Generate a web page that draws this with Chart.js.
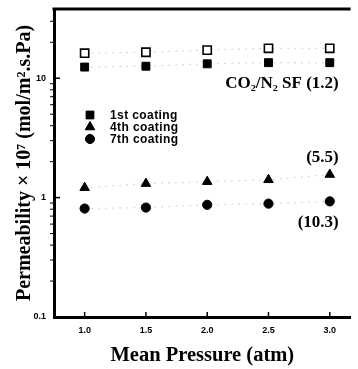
<!DOCTYPE html>
<html><head><meta charset="utf-8">
<script src="https://cdn.jsdelivr.net/npm/chart.js@4"></script>
<style>html,body{margin:0;padding:0;background:#fff;overflow:hidden}#wrap{width:358px;height:369px;position:relative}</style>
</head><body><div id="wrap"><canvas id="c" width="358" height="369"></canvas></div>
<script>
const pressures = [1.0, 1.5, 2.0, 2.5, 3.0];
const co2Open = [16.2, 16.5, 17.2, 17.8, 17.8];
const coating1 = [12.4, 12.6, 13.2, 13.5, 13.5];
const coating4 = [1.21, 1.31, 1.36, 1.41, 1.56];
const coating7 = [0.81, 0.825, 0.87, 0.89, 0.93];
const seriesLabels = ['1st coating', '4th coating', '7th coating'];
const xTickValues = [1.0, 1.5, 2.0, 2.5, 3.0];
const yMajorTicks = [0.1, 1, 10];
const annotations = [
  {text: 'CO\u2082/N\u2082 SF (1.2)', x: 3.0, y: 9.0},
  {text: '(5.5)', x: 3.0, y: 2.17},
  {text: '(10.3)', x: 3.0, y: 0.62}
];

const pts = arr => pressures.map((p, i) => ({x: p, y: arr[i]}));
const dotted = {borderColor: '#a8a8a8', borderWidth: 1, borderDash: [1, 6], showLine: true, pointBackgroundColor: '#000', pointBorderColor: '#000'};

const customDraw = {
  id: 'customDraw',
  afterDraw(chart) {
    const {ctx, chartArea: ca, scales: {x, y}} = chart;
    ctx.save();
    ctx.strokeStyle = '#000'; ctx.lineWidth = 3;
    ctx.beginPath(); ctx.moveTo(ca.left - 1.5, ca.top); ctx.lineTo(ca.right, ca.top); ctx.stroke();
    ctx.lineWidth = 1.5;
    yMajorTicks.forEach(v => { const py = y.getPixelForValue(v); ctx.beginPath(); ctx.moveTo(ca.left, py); ctx.lineTo(ca.left + 6, py); ctx.stroke(); });
    xTickValues.forEach(v => { const px = x.getPixelForValue(v); ctx.beginPath(); ctx.moveTo(px, ca.bottom); ctx.lineTo(px, ca.bottom - 5); ctx.stroke(); });
    ctx.lineWidth = 1;
    [0.1, 1, 10].forEach(d => { for (let k = 2; k <= 9; k++) { const v = d * k; if (v > y.max) break; const py = y.getPixelForValue(v); ctx.beginPath(); ctx.moveTo(ca.left - 4, py); ctx.lineTo(ca.left, py); ctx.stroke(); } });
    const lx = 90, ly = [115, 127, 139];
    ctx.fillStyle = '#000';
    ctx.font = 'bold 12px "Liberation Sans", Arial, sans-serif';
    try { ctx.letterSpacing = '0.4px'; } catch (e) {}
    ctx.textBaseline = 'middle'; ctx.textAlign = 'left';
    const styles = ['rect', 'triangle', 'circle'];
    const radii = [5.5, 5.5, 4.5];
    styles.forEach((s, i) => {
      Chart.helpers.drawPoint(ctx, {pointStyle: s, radius: radii[i], rotation: 0, borderWidth: 1}, lx, ly[i]);
      ctx.fill();
      ctx.fillText(seriesLabels[i], lx + 20, ly[i] + 1);
    });
    try { ctx.letterSpacing = '0px'; } catch (e) {}
    ctx.font = 'bold 17px "Liberation Serif", "Times New Roman", serif';
    ctx.textAlign = 'right'; ctx.textBaseline = 'middle';
    annotations.forEach(a => ctx.fillText(a.text, x.getPixelForValue(a.x) + 9, y.getPixelForValue(a.y)));
    ctx.restore();
  }
};

new Chart(document.getElementById('c'), {
  type: 'scatter',
  data: {
    datasets: [
      {label: 'CO2', data: pts(co2Open), ...dotted, pointStyle: 'rect', pointRadius: 5.8, pointBackgroundColor: '#fff', pointBorderColor: '#000', pointBorderWidth: 1.6},
      {label: seriesLabels[0], data: pts(coating1), ...dotted, pointStyle: 'rect', pointRadius: 5.6},
      {label: seriesLabels[1], data: pts(coating4), ...dotted, pointStyle: 'triangle', pointRadius: 5.5},
      {label: seriesLabels[2], data: pts(coating7), ...dotted, pointStyle: 'circle', pointRadius: 4.6}
    ]
  },
  options: {
    responsive: false, animation: false,
    layout: {padding: {top: 9, right: 0, left: 0, bottom: 0}},
    plugins: {legend: {display: false}, tooltip: {enabled: false}},
    scales: {
      x: {
        type: 'linear', min: 0.75, max: 3.17,
        afterFit: s => { s.height = 52; s.paddingLeft = 0; s.paddingRight = 0; },
        afterBuildTicks: s => { s.ticks = xTickValues.map(v => ({value: v})); },
        grid: {display: false, drawTicks: false},
        border: {display: true, color: '#000', width: 3},
        ticks: {padding: 8, color: '#000', font: {family: '"Liberation Sans", Arial, sans-serif', weight: 'bold', size: 9}, callback: v => v.toFixed(1)},
        title: {display: true, text: 'Mean Pressure (atm)', color: '#000', font: {family: '"Liberation Serif", "Times New Roman", serif', weight: 'bold', size: 20.5, lineHeight: 1}, padding: {top: 0, bottom: 3}}
      },
      y: {
        type: 'logarithmic', min: 0.1, max: 38,
        afterFit: s => { s.width = 54; s.paddingTop = 0; s.paddingBottom = 0; },
        afterBuildTicks: s => { s.ticks = yMajorTicks.map(v => ({value: v})); },
        grid: {display: false, drawTicks: false},
        border: {display: true, color: '#000', width: 3},
        ticks: {padding: 8, color: '#000', font: {family: '"Liberation Sans", Arial, sans-serif', weight: 'bold', size: 9}, callback: v => String(v)},
        title: {display: true, text: 'Permeability \u00d7 10\u2077 (mol/m\u00b2.s.Pa)', color: '#000', font: {family: '"Liberation Serif", "Times New Roman", serif', weight: 'bold', size: 20, lineHeight: 1}, padding: {top: 15, bottom: 0}}
      }
    }
  },
  plugins: [customDraw]
});
</script></body></html>
